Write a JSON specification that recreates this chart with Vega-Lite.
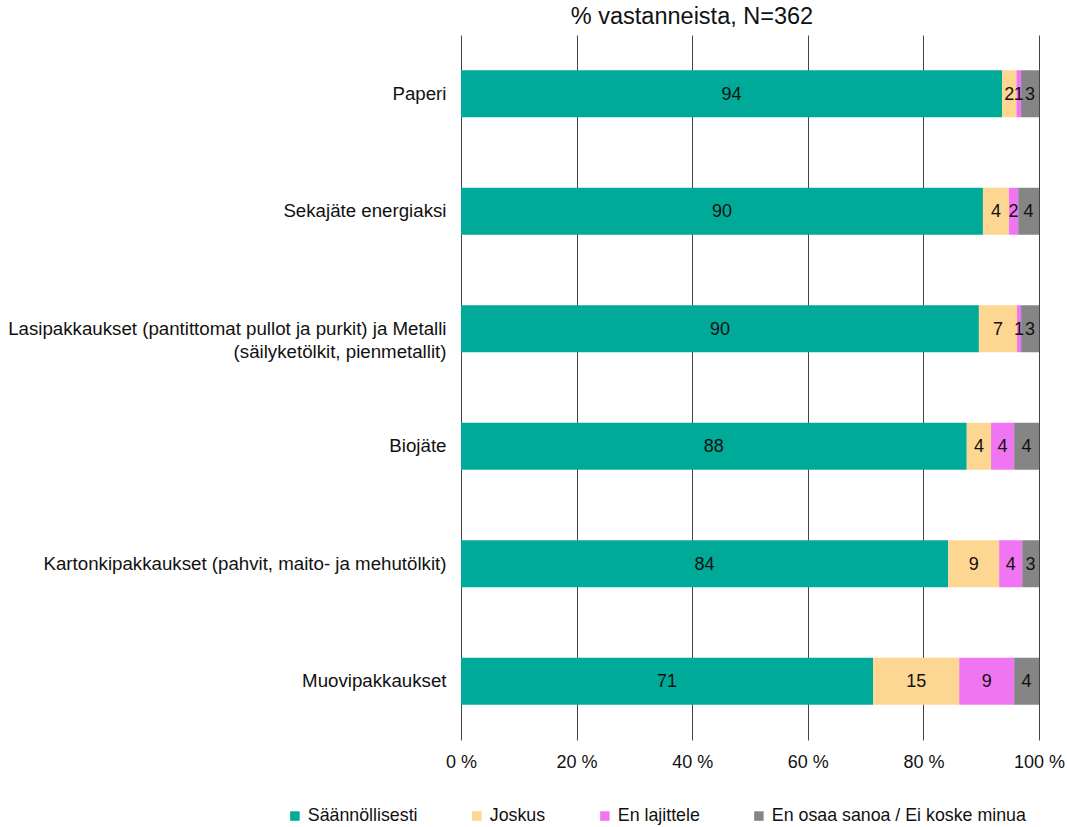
{
  "$schema": "https://vega.github.io/schema/vega-lite/v6.json",
  "autosize": {"type": "none"},
  "width": 578,
  "height": 705,
  "padding": {"left": 461, "top": 35, "right": 28, "bottom": 87},
  "background": "white",
  "config": {
    "font": "Liberation Sans",
    "view": {"stroke": null}
  },
  "title": {
    "text": "% vastanneista, N=362",
    "fontSize": 23.5,
    "fontWeight": "normal",
    "color": "#111",
    "anchor": "middle",
    "dx": -58,
    "offset": 7
  },
  "data": {
    "values": [
      {"cat": "Paperi", "resp": "Säännöllisesti", "o": 1, "value": 93.6, "label": "94"},
      {"cat": "Paperi", "resp": "Joskus", "o": 2, "value": 2.5, "label": "2"},
      {"cat": "Paperi", "resp": "En lajittele", "o": 3, "value": 0.8, "label": "1"},
      {"cat": "Paperi", "resp": "En osaa sanoa / Ei koske minua", "o": 4, "value": 3.1, "label": "3"},
      {"cat": "Sekajäte energiaksi", "resp": "Säännöllisesti", "o": 1, "value": 90.3, "label": "90"},
      {"cat": "Sekajäte energiaksi", "resp": "Joskus", "o": 2, "value": 4.5, "label": "4"},
      {"cat": "Sekajäte energiaksi", "resp": "En lajittele", "o": 3, "value": 1.6, "label": "2"},
      {"cat": "Sekajäte energiaksi", "resp": "En osaa sanoa / Ei koske minua", "o": 4, "value": 3.6, "label": "4"},
      {"cat": "Lasipakkaukset (pantittomat pullot ja purkit) ja Metalli|(säilyketölkit, pienmetallit)", "resp": "Säännöllisesti", "o": 1, "value": 89.6, "label": "90"},
      {"cat": "Lasipakkaukset (pantittomat pullot ja purkit) ja Metalli|(säilyketölkit, pienmetallit)", "resp": "Joskus", "o": 2, "value": 6.6, "label": "7"},
      {"cat": "Lasipakkaukset (pantittomat pullot ja purkit) ja Metalli|(säilyketölkit, pienmetallit)", "resp": "En lajittele", "o": 3, "value": 0.7, "label": "1"},
      {"cat": "Lasipakkaukset (pantittomat pullot ja purkit) ja Metalli|(säilyketölkit, pienmetallit)", "resp": "En osaa sanoa / Ei koske minua", "o": 4, "value": 3.1, "label": "3"},
      {"cat": "Biojäte", "resp": "Säännöllisesti", "o": 1, "value": 87.5, "label": "88"},
      {"cat": "Biojäte", "resp": "Joskus", "o": 2, "value": 4.2, "label": "4"},
      {"cat": "Biojäte", "resp": "En lajittele", "o": 3, "value": 4.0, "label": "4"},
      {"cat": "Biojäte", "resp": "En osaa sanoa / Ei koske minua", "o": 4, "value": 4.3, "label": "4"},
      {"cat": "Kartonkipakkaukset (pahvit, maito- ja mehutölkit)", "resp": "Säännöllisesti", "o": 1, "value": 84.3, "label": "84"},
      {"cat": "Kartonkipakkaukset (pahvit, maito- ja mehutölkit)", "resp": "Joskus", "o": 2, "value": 8.8, "label": "9"},
      {"cat": "Kartonkipakkaukset (pahvit, maito- ja mehutölkit)", "resp": "En lajittele", "o": 3, "value": 4.0, "label": "4"},
      {"cat": "Kartonkipakkaukset (pahvit, maito- ja mehutölkit)", "resp": "En osaa sanoa / Ei koske minua", "o": 4, "value": 2.9, "label": "3"},
      {"cat": "Muovipakkaukset", "resp": "Säännöllisesti", "o": 1, "value": 71.3, "label": "71"},
      {"cat": "Muovipakkaukset", "resp": "Joskus", "o": 2, "value": 14.9, "label": "15"},
      {"cat": "Muovipakkaukset", "resp": "En lajittele", "o": 3, "value": 9.5, "label": "9"},
      {"cat": "Muovipakkaukset", "resp": "En osaa sanoa / Ei koske minua", "o": 4, "value": 4.3, "label": "4"}
    ]
  },
  "encoding": {
    "y": {
      "field": "cat",
      "type": "nominal",
      "sort": null,
      "scale": {"paddingInner": 0.6, "paddingOuter": 0.3},
      "axis": {
        "title": null,
        "domain": false,
        "ticks": false,
        "grid": false,
        "labelFontSize": 18.7,
        "labelColor": "#111",
        "labelPadding": 15,
        "labelLimit": 600,
        "labelLineHeight": 23,
        "labelExpr": "split(datum.label, '|')"
      }
    }
  },
  "layer": [
    {
      "mark": {"type": "bar"},
      "encoding": {
        "x": {
          "field": "value",
          "type": "quantitative",
          "stack": "zero",
          "scale": {"domain": [0, 100]},
          "axis": {
            "title": null,
            "values": [0, 20, 40, 60, 80, 100],
            "labelExpr": "datum.value + ' %'",
            "domain": false,
            "ticks": false,
            "grid": true,
            "gridColor": "#444",
            "gridWidth": 1,
            "gridOpacity": 1,
            "labelFontSize": 18,
            "labelColor": "#111",
            "labelPadding": 13,
            "labelFlush": false
          }
        },
        "order": {"field": "o"},
        "color": {
          "field": "resp",
          "type": "nominal",
          "scale": {
            "domain": ["Säännöllisesti", "Joskus", "En lajittele", "En osaa sanoa / Ei koske minua"],
            "range": ["#00AA98", "#FDD692", "#F075F2", "#858585"]
          },
          "legend": {
            "title": null,
            "orient": "none",
            "direction": "horizontal",
            "padding": 0,
            "legendX": -175,
            "legendY": 772,
            "symbolType": "square",
            "symbolSize": 90,
            "symbolStrokeWidth": 0,
            "labelFontSize": 17.8,
            "labelColor": "#111",
            "labelOffset": 4,
            "columnPadding": 50,
            "labelLimit": 400
          }
        }
      }
    },
    {
      "mark": {"type": "text", "fontSize": 18, "color": "#111", "baseline": "middle", "dy": 1},
      "encoding": {
        "x": {"field": "value", "type": "quantitative", "stack": "zero", "bandPosition": 0.5},
        "order": {"field": "o"},
        "detail": {"field": "resp"},
        "text": {"field": "label"}
      }
    }
  ]
}
